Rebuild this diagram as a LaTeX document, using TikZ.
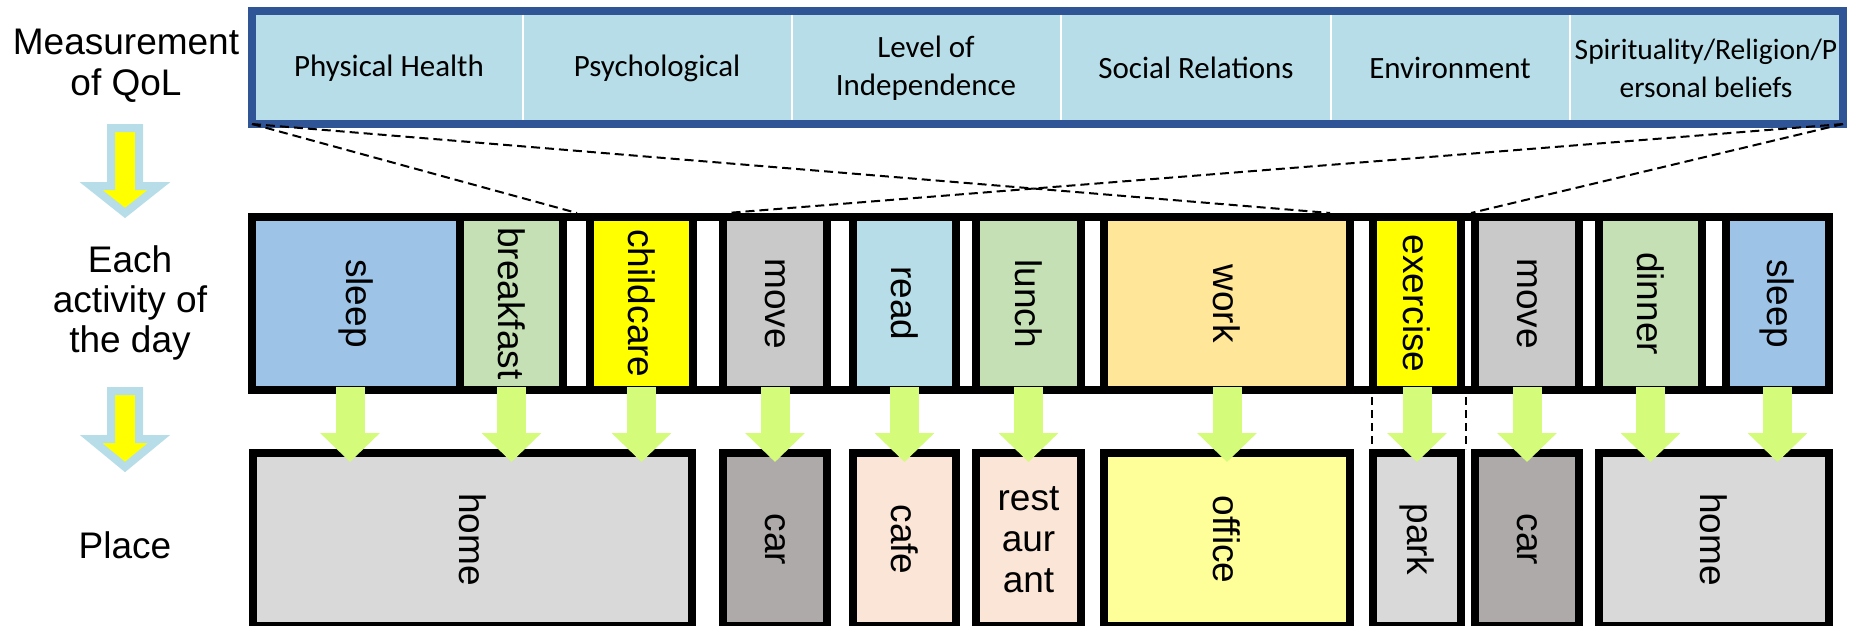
\documentclass[tikz,border=0pt]{standalone}
\usepackage{fontspec}
\usepackage{graphicx}
\setmainfont{Liberation Sans}
\newfontfamily\calibri{Carlito}
\usetikzlibrary{arrows.meta,calc}
\definecolor{barblue}{HTML}{2F5597}
\definecolor{barfill}{HTML}{B7DEE8}
\definecolor{sleepc}{HTML}{9DC3E6}
\definecolor{mealc}{HTML}{C5E0B4}
\definecolor{yel}{HTML}{FFFF00}
\definecolor{movec}{HTML}{C9C9C9}
\definecolor{readc}{HTML}{B7DEE8}
\definecolor{workc}{HTML}{FFE699}
\definecolor{homec}{HTML}{D9D9D9}
\definecolor{carc}{HTML}{AEAAAA}
\definecolor{cafec}{HTML}{FBE5D6}
\definecolor{officec}{HTML}{FFFF99}
\definecolor{arrgreen}{RGB}{212,251,121}
\begin{document}
\begin{tikzpicture}[x=1pt,y=-1pt,
  box/.style={draw=black, line width=8pt, rectangle, inner sep=0pt, outer sep=0pt, font=\fontsize{37}{40}\selectfont},
  actbox/.style={box, minimum height=173pt},
  placebox/.style={box, minimum height=173pt},
  qol/.style={inner sep=0pt, font=\calibri\fontsize{31}{38}\selectfont, align=center},
  side/.style={inner sep=0pt, font=\fontsize{37}{40}\selectfont, anchor=base},
  garrow/.style={draw=arrgreen, line width=29pt, -{Triangle[width=58pt,length=29pt]}},
  bigarrow/.style={draw=barfill, fill=yel, line width=8pt, miter limit=10},
  dline/.style={black, line width=2pt, dash pattern=on 9pt off 5pt},
  vline/.style={black, line width=1.5pt, dash pattern=on 8pt off 5pt}]

\useasboundingbox (0,0) rectangle (1865,626);

% ---- QoL bar ----
\node[draw=barblue, fill=barfill, line width=8pt, rectangle, inner sep=0pt, outer sep=0pt,
      minimum width=1591pt, minimum height=113pt] (bar) at (1047.5,67.5) {};
\foreach \dx in {523,792,1061,1331,1570}
  \draw[white, line width=2.5pt] (\dx,15) -- (\dx,120);
\node[qol] (q1) at (389,68) {Physical Health};
\node[qol] (q2) at (657,68) {Psychological};
\node[qol] (q3) at (926,68) {Level of\\Independence};
\node[qol] (q4) at (1196,68) {Social Relations};
\node[qol] (q5) at (1450,68) {Environment};
\node[qol, font=\calibri\fontsize{29.5}{38}\selectfont] (q6) at (1706,68) {Spirituality/Religion/P\\ersonal beliefs};

% ---- side labels ----
\node[side] (meas1) at (126,55) {Measurement};
\node[side] (meas2) at (126,95) {of QoL};
\node[side] (each1) at (130,272) {Each};
\node[side] (each2) at (130,312) {activity of};
\node[side] (each3) at (130,352) {the day};
\node[side] (placelab) at (125,558) {Place};

\draw[bigarrow] (111,128) -- (139,128) -- (139,186) -- (159,186) -- (125,213) -- (91,186) -- (111,186) -- cycle;
\draw[bigarrow] (111,391) -- (139,391) -- (139,439) -- (159,439) -- (125,467) -- (91,439) -- (111,439) -- cycle;

% ---- activity row ----
\node[box, minimum width=1577pt, minimum height=173pt] (frame) at (1040.5,303.5) {};
\node[actbox, fill=sleepc, minimum width=208pt] (sleepA) at (356,303.5) {\rotatebox{-90}{sleep}};
\node[actbox, fill=mealc, minimum width=103pt] (breakfast) at (511.5,303.5) {\rotatebox{-90}{breakfast}};
\node[actbox, fill=yel, minimum width=103pt] (childcare) at (641.5,303.5) {\rotatebox{-90}{childcare}};
\node[actbox, fill=movec, minimum width=104pt] (moveA) at (775,303.5) {\rotatebox{-90}{move}};
\node[actbox, fill=readc, minimum width=103pt] (read) at (904.5,303.5) {\rotatebox{-90}{read}};
\node[actbox, fill=mealc, minimum width=105pt] (lunch) at (1028.5,303.5) {\rotatebox{-90}{lunch}};
\node[actbox, fill=workc, minimum width=246pt] (work) at (1227,303.5) {\rotatebox{-90}{work}};
\node[actbox, fill=yel, minimum width=88pt] (exercise) at (1417,303.5) {\rotatebox{-90}{exercise}};
\node[actbox, fill=movec, minimum width=104pt] (moveB) at (1527,303.5) {\rotatebox{-90}{move}};
\node[actbox, fill=mealc, minimum width=103pt] (dinner) at (1650.5,303.5) {\rotatebox{-90}{dinner}};
\node[actbox, fill=sleepc, minimum width=103pt] (sleepB) at (1777.5,303.5) {\rotatebox{-90}{sleep}};

% ---- place row ----
\node[placebox, fill=homec, minimum width=439pt] (homeA) at (472.5,539.5) {\rotatebox{-90}{home}};
\node[placebox, fill=carc, minimum width=104pt] (carA) at (775,539.5) {\rotatebox{-90}{car}};
\node[placebox, fill=cafec, minimum width=103pt] (cafe) at (904.5,539.5) {\rotatebox{-90}{cafe}};
\node[placebox, fill=cafec, minimum width=105pt, align=center, font=\fontsize{37}{41}\selectfont] (restaurant) at (1028.5,539.5) {rest\\aur\\ant};
\node[placebox, fill=officec, minimum width=246pt] (office) at (1227,539.5) {\rotatebox{-90}{office}};
\node[placebox, fill=homec, minimum width=88pt] (park) at (1417,539.5) {\rotatebox{-90}{park}};
\node[placebox, fill=carc, minimum width=104pt] (carB) at (1527,539.5) {\rotatebox{-90}{car}};
\node[placebox, fill=homec, minimum width=230pt] (homeB) at (1714,539.5) {\rotatebox{-90}{home}};

% ---- green arrows ----
\draw[garrow] ($([xshift=-6pt]sleepA.south)+(0,-3)$) -- ($([xshift=-6pt]sleepA.south |- homeA.north)+(0,9)$);
\foreach \a/\p in {breakfast/homeA, childcare/homeA, moveA/carA, read/cafe, lunch/restaurant, work/office, exercise/park, moveB/carB, dinner/homeB, sleepB/homeB}
  \draw[garrow] ($(\a.south)+(0,-3)$) -- ($(\a.south |- \p.north)+(0,9)$);

% ---- dashed lines ----
\draw[dline] (bar.south west) -- ($(childcare.north west)+(-13,-4)$);
\draw[dline] (bar.south west) -- ($(exercise.north west)+(-43,-4)$);
\draw[dline] (bar.south east) -- ($(moveA.north west)+(4,-4)$);
\draw[dline] (bar.south east) -- ($(moveB.north west)+(-4,-4)$);
\draw[vline] ($(exercise.south west)+(-1,7)$) -- ($(park.north west)+(-1,-4)$);
\draw[vline] ($(exercise.south east)+(5,7)$) -- ($(park.north east)+(5,-4)$);
\end{tikzpicture}
\end{document}
